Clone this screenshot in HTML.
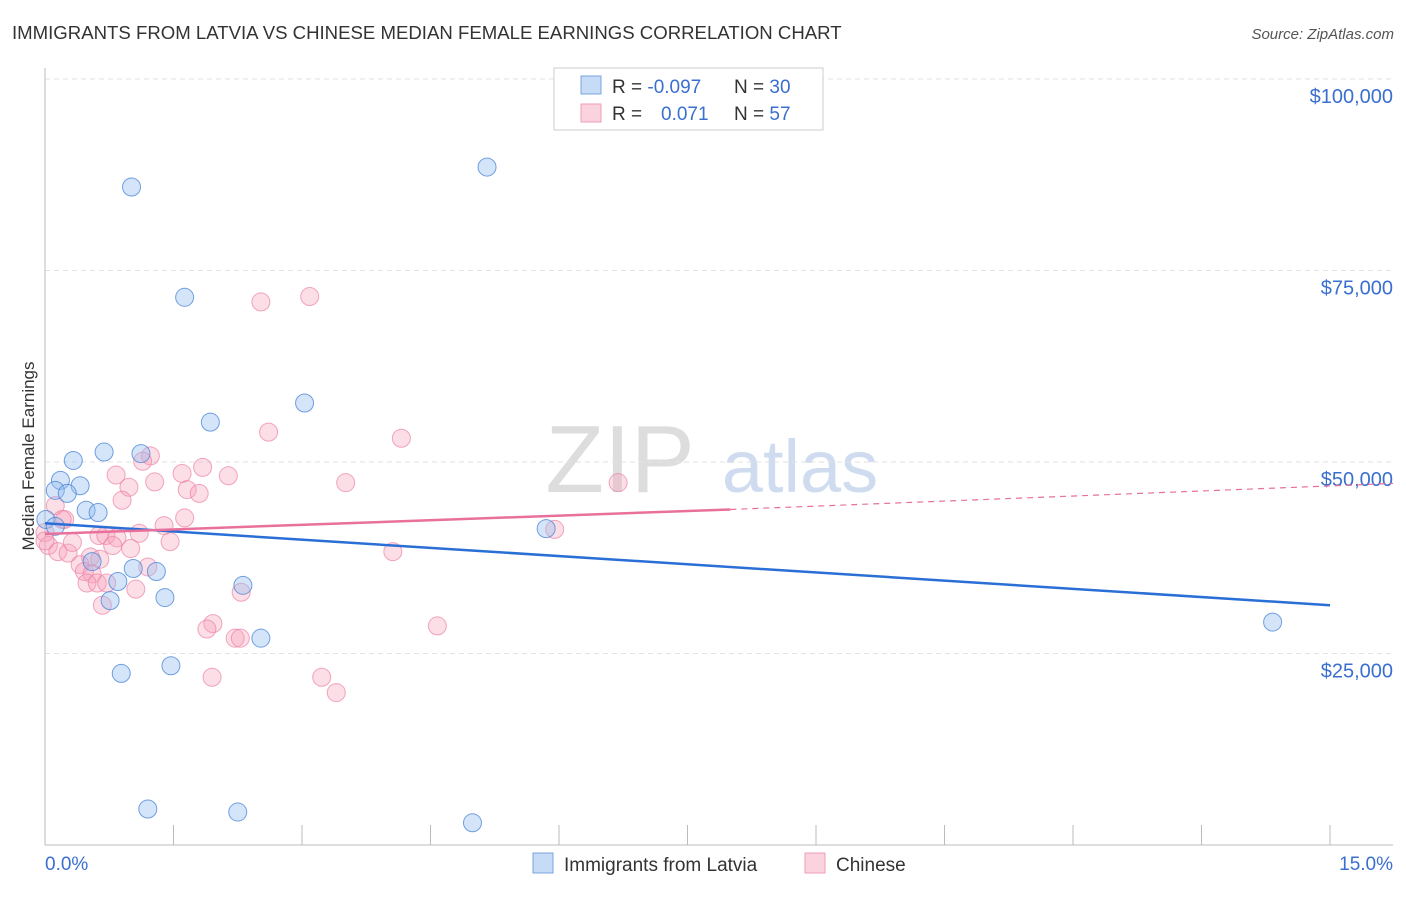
<!DOCTYPE html>
<html><head><meta charset="utf-8"><style>
body{margin:0;background:#fff;font-family:"Liberation Sans",sans-serif}
svg text{font-family:"Liberation Sans",sans-serif}
</style></head><body>
<svg width="1406" height="892" xmlns="http://www.w3.org/2000/svg">
<text x="12" y="39" font-size="18.6" fill="#333">IMMIGRANTS FROM LATVIA VS CHINESE MEDIAN FEMALE EARNINGS CORRELATION CHART</text>
<text x="1394" y="39" font-size="15" fill="#555" font-style="italic" text-anchor="end">Source: ZipAtlas.com</text>
<text x="34" y="456" font-size="17" fill="#333" text-anchor="middle" transform="rotate(-90 34 456)">Median Female Earnings</text>
<text x="620" y="492" font-size="96" fill="#ddd" font-family="Liberation Serif" text-anchor="middle">ZIP</text>
<text x="800" y="492" font-size="74" fill="#cfdcf0" text-anchor="middle">atlas</text>
<g id="grid"></g>
<g id="axes"></g>
<g id="pts"></g>
<g id="lines"></g>
<g>
<rect x="554" y="68" width="269" height="62" fill="#fff" stroke="#ccc"/>
<rect x="581" y="76" width="20" height="18" fill="#c6dbf6" stroke="#7aa5e0"/>
<rect x="581" y="104" width="20" height="18" fill="#fbd3df" stroke="#ef9db5"/>
<text x="612" y="93" font-size="19" fill="#333">R = <tspan fill="#3a6fd0">-0.097</tspan></text>
<text x="734" y="93" font-size="19" fill="#333">N = <tspan fill="#3a6fd0">30</tspan></text>
<text x="612" y="120" font-size="19" fill="#333">R = </text><text x="661" y="120" font-size="19" fill="#3a6fd0">0.071</text>
<text x="734" y="120" font-size="19" fill="#333">N = <tspan fill="#3a6fd0">57</tspan></text>
</g>
<g>
<rect x="533" y="853" width="20" height="20" fill="#c6dbf6" stroke="#7aa5e0"/>
<text x="564" y="871" font-size="19" fill="#333">Immigrants from Latvia</text>
<rect x="805" y="853" width="20" height="20" fill="#fbd3df" stroke="#ef9db5"/>
<text x="836" y="871" font-size="19" fill="#333">Chinese</text>
</g>
</svg>
<script>
const yTicks=[25000,50000,75000,100000];
const yTickLabels=["$25,000","$50,000","$75,000","$100,000"];
const xTickLabels=["0.0%","15.0%"];
const latviaX=[1.01,5.16,1.63,3.03,1.93,0.69,1.12,0.33,0.18,0.12,0.41,0.26,0.48,0.62,0.01,0.12,5.85,0.55,1.03,1.30,0.85,2.31,0.76,1.40,2.52,14.33,0.89,1.47,1.20,2.25,4.99];
const latviaY=[85900,88500,71500,57700,55200,51300,51100,50200,47600,46300,46900,45900,43700,43400,42500,41600,41300,37000,36100,35700,34400,33900,31900,32300,27000,29100,22400,23400,4700,4300,2900];
const chineseX=[3.09,2.52,2.61,4.16,1.23,1.14,1.84,1.60,0.83,2.14,1.28,3.51,6.69,0.98,1.66,1.80,0.90,0.12,1.63,1.39,0.23,0.00,0.63,1.10,0.71,0.84,1.46,0.04,0.15,4.06,1.00,0.79,0.27,0.53,0.64,0.41,0.46,0.55,1.20,0.49,0.61,0.72,1.06,2.29,0.67,1.96,1.89,2.22,2.28,4.58,1.95,3.23,3.40,5.95,0.20,0.32,0.00];
const chineseY=[71600,70900,53900,53100,50800,50100,49300,48500,48300,48200,47400,47300,47300,46700,46400,45900,45000,44300,42700,41700,42500,40800,40400,40700,40400,40100,39600,39100,38300,38300,38700,39100,38100,37600,37300,36600,35700,35400,36300,34200,34200,34200,33400,33000,31300,28900,28200,27000,27000,28600,21900,21900,19900,41200,42500,39500,39700];
const trendBlue=[42000,31300];const trendPink=[40600,43800,47200];
const NS="http://www.w3.org/2000/svg";
const X=v=>45+v/15*1285, Y=v=>845-v/25000*191.5;
function mk(t,a,p){const e=document.createElementNS(NS,t);for(const k in a)e.setAttribute(k,a[k]);p.appendChild(e);return e;}
const grid=document.getElementById('grid'),axes=document.getElementById('axes'),pts=document.getElementById('pts'),lines=document.getElementById('lines');
yTicks.forEach((v,i)=>{
 const l=mk('line',{x1:45,x2:1393,y1:Y(v),y2:Y(v),stroke:'#e2e2e2','stroke-dasharray':'5,4'},grid);
 
 
 const t=mk('text',{x:1393,y:Y(v)+24,'font-size':20,fill:'#3a6fd0','text-anchor':'end'},axes);
 t.textContent=yTickLabels[i];
 
 
});
const ya=mk('line',{x1:45,x2:45,y1:68,y2:845,stroke:'#bbb'},axes);


const xa=mk('line',{x1:45,x2:1393,y1:845,y2:845,stroke:'#bbb'},axes);


for(let i=1;i<=10;i++){const tk=mk('line',{x1:X(i*1.5),x2:X(i*1.5),y1:825,y2:845,stroke:'#bbb'},axes);
 
 }
[[0,'start',45],[15,'end',1393]].forEach((d,i)=>{const t=mk('text',{x:d[2],y:870,'font-size':19,fill:'#3a6fd0','text-anchor':d[1]},axes);t.textContent=xTickLabels[i];
 
 });
chineseX.forEach((x,i)=>{const c=mk('circle',{cx:X(x),cy:Y(chineseY[i]),r:9,fill:'rgba(245,160,185,0.35)',stroke:'rgba(235,130,165,0.7)'},pts);
 
 });
latviaX.forEach((x,i)=>{const c=mk('circle',{cx:X(x),cy:Y(latviaY[i]),r:9,fill:'rgba(150,190,240,0.4)',stroke:'rgba(70,130,215,0.75)'},pts);
 
 });
const bl=mk('line',{x1:X(0),x2:X(15),y1:Y(trendBlue[0]),y2:Y(trendBlue[1]),stroke:'#2a6fd6','stroke-width':2.5},lines);


const pl=mk('line',{x1:X(0),x2:X(8),y1:Y(trendPink[0]),y2:Y(trendPink[1]),stroke:'#e8709a','stroke-width':2.5},lines);


const pd=mk('line',{x1:X(8),x2:1393,y1:Y(trendPink[1]),y2:Y(trendPink[2]),stroke:'#e8709a','stroke-width':1.2,'stroke-dasharray':'6,5'},lines);


const topGrid=mk('line',{x1:45,x2:1393,y1:Y(100000),y2:Y(100000),stroke:'#e2e2e2','stroke-dasharray':'5,4'},grid);


</script>
</body></html>
